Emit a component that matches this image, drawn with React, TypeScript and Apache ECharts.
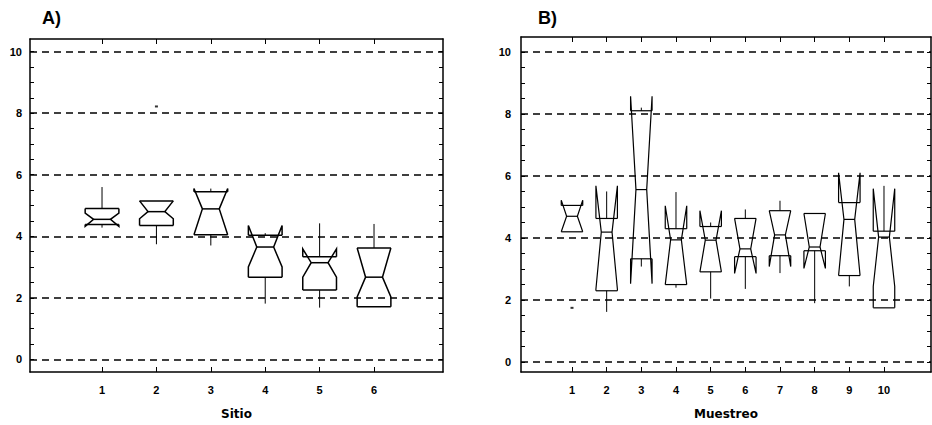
import React, { useEffect, useRef } from "react";
import * as echarts from "echarts";

// ---------- Panel A: Sitio ----------
const sitioCats = [1, 2, 3, 4, 5, 6];
const sitioLowWhisker = [4.28, 3.74, 3.7, 1.81, 1.68, 1.71];
const sitioQ1 = [4.38, 4.35, 4.05, 2.67, 2.25, 1.71];
const sitioMedian = [4.55, 4.8, 4.89, 3.65, 3.14, 2.67];
const sitioQ3 = [4.9, 5.15, 5.45, 4.03, 3.33, 3.62];
const sitioHighWhisker = [5.6, 5.15, 5.55, 4.1, 4.42, 4.4];
const sitioNotchLow = [4.32, 4.57, 4.05, 3.0, 2.67, 2.03];
const sitioNotchHigh = [4.75, 5.15, 5.55, 4.35, 3.59, 3.62];
const sitioOutliers = [[2, 8.22]];

// ---------- Panel B: Muestreo ----------
const muestreoCats = [1, 2, 3, 4, 5, 6, 7, 8, 9, 10];
const muestreoLowWhisker = [4.2, 1.62, 3.08, 2.4, 2.05, 2.36, 2.87, 1.9, 2.44, 1.75];
const muestreoQ1 = [4.2, 2.3, 3.33, 2.5, 2.91, 3.4, 3.43, 3.59, 2.79, 1.75];
const muestreoMedian = [4.7, 4.19, 5.56, 3.94, 3.93, 3.65, 4.1, 3.71, 4.6, 4.03];
const muestreoQ3 = [5.05, 4.63, 8.1, 4.3, 4.37, 4.63, 4.88, 4.79, 5.14, 4.22];
const muestreoHighWhisker = [5.05, 5.5, 8.2, 5.48, 4.5, 4.92, 5.2, 4.79, 5.14, 5.68];
const muestreoNotchLow = [4.2, 2.35, 2.53, 2.5, 2.91, 2.86, 3.08, 3.02, 2.79, 2.44];
const muestreoNotchHigh = [5.22, 5.68, 8.57, 5.04, 4.88, 4.63, 4.88, 4.79, 6.1, 5.59];
const muestreoOutliers = [[1, 1.75]];

// ---------- Axis ticks ----------
const yLabelValues = [0, 2, 4, 6, 8, 10];
const yMinorTicks = [0, 0.5, 1, 1.5, 2, 2.5, 3, 3.5, 4, 4.5, 5, 5.5, 6, 6.5, 7, 7.5, 8, 8.5, 9, 9.5, 10];
const gridValues = [0, 2, 4, 6, 8, 10];

const FONT = '"Liberation Sans", Arial, sans-serif';

function buildRows(cats, lo, q1, med, q3, hi, nlo, nhi) {
  return cats.map((c, i) => [c, lo[i], q1[i], med[i], q3[i], hi[i], nlo[i], nhi[i]]);
}

function makeRenderItem(lw) {
  return (params, api) => {
    const x = api.value(0);
    const lo = api.value(1);
    const q1 = api.value(2);
    const med = api.value(3);
    const q3 = api.value(4);
    const hi = api.value(5);
    const nlo = api.value(6);
    const nhi = api.value(7);
    const half = 0.31;
    const c = (xx, yy) => api.coord([xx, yy]);
    const L = x - half, R = x + half, IL = x - half / 2, IR = x + half / 2;
    const style = { stroke: "#000", fill: "none", lineWidth: lw };
    const ln = (a, b, w) => ({
      type: "line",
      shape: { x1: a[0], y1: a[1], x2: b[0], y2: b[1] },
      style: { stroke: "#000", lineWidth: w },
    });
    const children = [
      { type: "polyline", shape: { points: [c(L, q1), c(L, nlo), c(IL, med), c(L, nhi), c(L, q3)] }, style },
      { type: "polyline", shape: { points: [c(R, q1), c(R, nlo), c(IR, med), c(R, nhi), c(R, q3)] }, style },
      ln(c(L, q1), c(R, q1), lw),
      ln(c(L, q3), c(R, q3), lw),
      ln(c(IL, med), c(IR, med), lw),
    ];
    if (hi > q3) children.push(ln(c(x, q3), c(x, hi), 1));
    if (lo < q1) children.push(ln(c(x, q1), c(x, lo), 1));
    return { type: "group", children };
  };
}

function axesFor(gridIndex, xmin, xmax, ymin, ymax, cats, name, yLabelMargin) {
  const lineStyle = { color: "#000", width: 1.5 };
  const tick = { show: true, inside: true, length: 5, lineStyle: { color: "#000", width: 1 } };
  const xBottom = {
    type: "value", gridIndex, min: xmin, max: xmax, position: "bottom",
    axisLine: { show: true, onZero: false, lineStyle },
    axisTick: { ...tick, customValues: cats },
    axisLabel: { show: true, customValues: cats, margin: 12, color: "#000", fontSize: 11, fontWeight: "bold", fontFamily: FONT },
    splitLine: { show: false },
    name, nameLocation: "middle", nameGap: 36,
    nameTextStyle: { color: "#000", fontSize: 12, fontWeight: "bold", fontFamily: '"DejaVu Sans", sans-serif' },
  };
  const xTop = {
    type: "value", gridIndex, min: xmin, max: xmax, position: "top",
    axisLine: { show: true, onZero: false, lineStyle },
    axisTick: { ...tick, customValues: cats },
    axisLabel: { show: false },
    splitLine: { show: false },
  };
  const yLeft = {
    type: "value", gridIndex, min: ymin, max: ymax, position: "left",
    axisLine: { show: true, onZero: false, lineStyle },
    axisTick: { ...tick, length: 4, customValues: yMinorTicks },
    axisLabel: { show: true, customValues: yLabelValues, margin: yLabelMargin, color: "#000", fontSize: 11, fontWeight: "bold", fontFamily: FONT },
    splitLine: { show: false },
  };
  const yRight = {
    type: "value", gridIndex, min: ymin, max: ymax, position: "right",
    axisLine: { show: true, onZero: false, lineStyle },
    axisTick: { ...tick, length: 4, customValues: yMinorTicks },
    axisLabel: { show: false },
    splitLine: { show: false },
  };
  return { x: [xBottom, xTop], y: [yLeft, yRight] };
}

export default function App() {
  const ref = useRef(null);
  useEffect(() => {
    const chart = echarts.init(ref.current, null, { renderer: "svg" });
    const a = axesFor(0, -0.324, 7.268, -0.413, 10.413, sitioCats, "Sitio", 8);
    const b = axesFor(1, -0.471, 11.356, -0.317, 10.476, muestreoCats, "Muestreo", 10);
    const markLine = {
      silent: true,
      symbol: ["none", "none"],
      label: { show: false },
      lineStyle: { color: "#000", type: [7, 5], width: 1.6 },
      data: gridValues.map((v) => ({ yAxis: v })),
    };
    chart.setOption({
      animation: false,
      backgroundColor: "#fff",
      grid: [
        { left: 30, top: 39, width: 413, height: 341 },
        { left: 521, top: 37, width: 410, height: 340 },
      ],
      xAxis: [...a.x, ...b.x],
      yAxis: [...a.y, ...b.y],
      graphic: [
        { type: "text", left: 42, top: 9, style: { text: "A)", font: `bold 18px ${FONT}`, fill: "#000" } },
        { type: "text", left: 538, top: 9, style: { text: "B)", font: `bold 18px ${FONT}`, fill: "#000" } },
      ],
      series: [
        {
          type: "custom", xAxisIndex: 0, yAxisIndex: 0,
          renderItem: makeRenderItem(1.5),
          encode: { x: 0, y: [1, 2, 3, 4, 5, 6, 7] },
          data: buildRows(sitioCats, sitioLowWhisker, sitioQ1, sitioMedian, sitioQ3, sitioHighWhisker, sitioNotchLow, sitioNotchHigh),
          z: 3,
        },
        {
          type: "scatter", xAxisIndex: 0, yAxisIndex: 0,
          symbol: "rect", symbolSize: [3, 2], itemStyle: { color: "#000" },
          data: sitioOutliers, markLine,
        },
        {
          type: "custom", xAxisIndex: 2, yAxisIndex: 2,
          renderItem: makeRenderItem(1.2),
          encode: { x: 0, y: [1, 2, 3, 4, 5, 6, 7] },
          data: buildRows(muestreoCats, muestreoLowWhisker, muestreoQ1, muestreoMedian, muestreoQ3, muestreoHighWhisker, muestreoNotchLow, muestreoNotchHigh),
          z: 3,
        },
        {
          type: "scatter", xAxisIndex: 2, yAxisIndex: 2,
          symbol: "rect", symbolSize: [3, 2], itemStyle: { color: "#000" },
          data: muestreoOutliers, markLine,
        },
      ],
    });
    return () => chart.dispose();
  }, []);
  return <div ref={ref} style={{ position: "fixed", left: 0, top: 0, width: 932, height: 425 }} />;
}
